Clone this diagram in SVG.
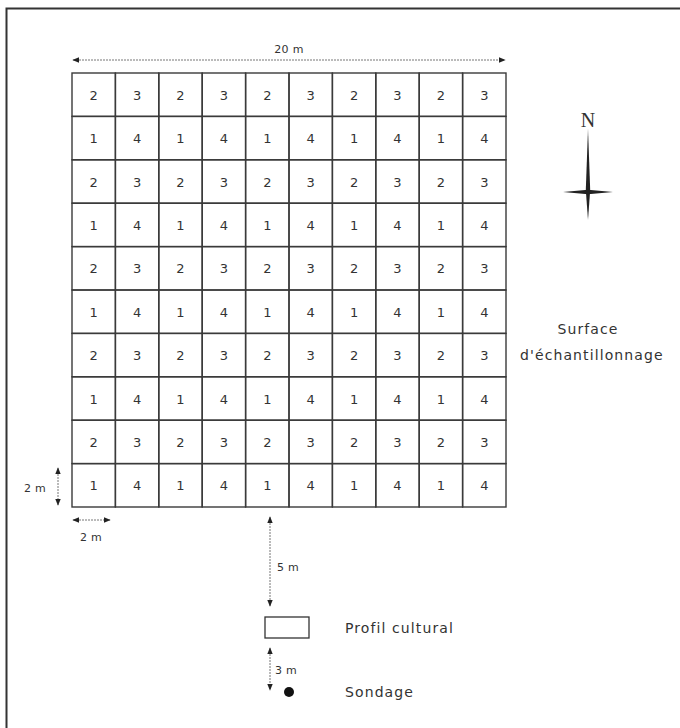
<svg xmlns="http://www.w3.org/2000/svg" width="680" height="728" viewBox="0 0 680 728">
<style>
.cell rect{fill:none;stroke:#3a3a3a;stroke-width:1.4}
.num{font-family:"DejaVu Sans","Liberation Sans",sans-serif;font-size:13px;fill:#333;text-anchor:middle}
.lbl{font-family:"DejaVu Sans","Liberation Sans",sans-serif;font-size:11px;fill:#333;letter-spacing:0.3px}
.big{font-family:"DejaVu Sans","Liberation Sans",sans-serif;font-size:14px;fill:#333;letter-spacing:1.1px}
.dim{stroke:#777;stroke-width:1;fill:none;stroke-dasharray:2 1}
</style>
<defs>
<marker id="ah" viewBox="0 0 10 10" refX="9" refY="5" markerWidth="7" markerHeight="7" markerUnits="userSpaceOnUse" orient="auto-start-reverse">
<path d="M0,1 L10,5 L0,9 Z" fill="#222"/>
</marker>
</defs>
<rect x="0" y="0" width="680" height="728" fill="#fff"/>
<path d="M6.5,728 V8.5 H680" fill="none" stroke="#333" stroke-width="2"/>

<g id="connectors">
<line class="dim" x1="73" y1="60" x2="505" y2="60" marker-start="url(#ah)" marker-end="url(#ah)"/>
<line class="dim" x1="58" y1="468" x2="58" y2="505" marker-start="url(#ah)" marker-end="url(#ah)"/>
<line class="dim" x1="73" y1="520" x2="110" y2="520" marker-start="url(#ah)" marker-end="url(#ah)"/>
<line class="dim" x1="270" y1="517" x2="270" y2="606" marker-start="url(#ah)" marker-end="url(#ah)"/>
<line class="dim" x1="270" y1="648" x2="270" y2="690" marker-start="url(#ah)" marker-end="url(#ah)"/>
</g>

<g id="labels">
<text class="lbl" x="289" y="53" text-anchor="middle">20 m</text>
<text class="lbl" x="24" y="492">2 m</text>
<text class="lbl" x="80" y="541">2 m</text>
<text class="lbl" x="277" y="571">5 m</text>
<text class="lbl" x="275" y="674">3 m</text>
</g>

<g id="grid">
<g class="cell" id="c0-0"><rect x="72" y="73" width="43.4" height="43.4"/><text class="num" x="93.7" y="99.7">2</text></g>
<g class="cell" id="c0-1"><rect x="115.4" y="73" width="43.4" height="43.4"/><text class="num" x="137.1" y="99.7">3</text></g>
<g class="cell" id="c0-2"><rect x="158.8" y="73" width="43.4" height="43.4"/><text class="num" x="180.5" y="99.7">2</text></g>
<g class="cell" id="c0-3"><rect x="202.2" y="73" width="43.4" height="43.4"/><text class="num" x="223.9" y="99.7">3</text></g>
<g class="cell" id="c0-4"><rect x="245.6" y="73" width="43.4" height="43.4"/><text class="num" x="267.3" y="99.7">2</text></g>
<g class="cell" id="c0-5"><rect x="289" y="73" width="43.4" height="43.4"/><text class="num" x="310.7" y="99.7">3</text></g>
<g class="cell" id="c0-6"><rect x="332.4" y="73" width="43.4" height="43.4"/><text class="num" x="354.1" y="99.7">2</text></g>
<g class="cell" id="c0-7"><rect x="375.8" y="73" width="43.4" height="43.4"/><text class="num" x="397.5" y="99.7">3</text></g>
<g class="cell" id="c0-8"><rect x="419.2" y="73" width="43.4" height="43.4"/><text class="num" x="440.9" y="99.7">2</text></g>
<g class="cell" id="c0-9"><rect x="462.6" y="73" width="43.4" height="43.4"/><text class="num" x="484.3" y="99.7">3</text></g>

<g class="cell" id="c1-0"><rect x="72" y="116.4" width="43.4" height="43.4"/><text class="num" x="93.7" y="143.1">1</text></g>
<g class="cell" id="c1-1"><rect x="115.4" y="116.4" width="43.4" height="43.4"/><text class="num" x="137.1" y="143.1">4</text></g>
<g class="cell" id="c1-2"><rect x="158.8" y="116.4" width="43.4" height="43.4"/><text class="num" x="180.5" y="143.1">1</text></g>
<g class="cell" id="c1-3"><rect x="202.2" y="116.4" width="43.4" height="43.4"/><text class="num" x="223.9" y="143.1">4</text></g>
<g class="cell" id="c1-4"><rect x="245.6" y="116.4" width="43.4" height="43.4"/><text class="num" x="267.3" y="143.1">1</text></g>
<g class="cell" id="c1-5"><rect x="289" y="116.4" width="43.4" height="43.4"/><text class="num" x="310.7" y="143.1">4</text></g>
<g class="cell" id="c1-6"><rect x="332.4" y="116.4" width="43.4" height="43.4"/><text class="num" x="354.1" y="143.1">1</text></g>
<g class="cell" id="c1-7"><rect x="375.8" y="116.4" width="43.4" height="43.4"/><text class="num" x="397.5" y="143.1">4</text></g>
<g class="cell" id="c1-8"><rect x="419.2" y="116.4" width="43.4" height="43.4"/><text class="num" x="440.9" y="143.1">1</text></g>
<g class="cell" id="c1-9"><rect x="462.6" y="116.4" width="43.4" height="43.4"/><text class="num" x="484.3" y="143.1">4</text></g>

<g class="cell" id="c2-0"><rect x="72" y="159.8" width="43.4" height="43.4"/><text class="num" x="93.7" y="186.5">2</text></g>
<g class="cell" id="c2-1"><rect x="115.4" y="159.8" width="43.4" height="43.4"/><text class="num" x="137.1" y="186.5">3</text></g>
<g class="cell" id="c2-2"><rect x="158.8" y="159.8" width="43.4" height="43.4"/><text class="num" x="180.5" y="186.5">2</text></g>
<g class="cell" id="c2-3"><rect x="202.2" y="159.8" width="43.4" height="43.4"/><text class="num" x="223.9" y="186.5">3</text></g>
<g class="cell" id="c2-4"><rect x="245.6" y="159.8" width="43.4" height="43.4"/><text class="num" x="267.3" y="186.5">2</text></g>
<g class="cell" id="c2-5"><rect x="289" y="159.8" width="43.4" height="43.4"/><text class="num" x="310.7" y="186.5">3</text></g>
<g class="cell" id="c2-6"><rect x="332.4" y="159.8" width="43.4" height="43.4"/><text class="num" x="354.1" y="186.5">2</text></g>
<g class="cell" id="c2-7"><rect x="375.8" y="159.8" width="43.4" height="43.4"/><text class="num" x="397.5" y="186.5">3</text></g>
<g class="cell" id="c2-8"><rect x="419.2" y="159.8" width="43.4" height="43.4"/><text class="num" x="440.9" y="186.5">2</text></g>
<g class="cell" id="c2-9"><rect x="462.6" y="159.8" width="43.4" height="43.4"/><text class="num" x="484.3" y="186.5">3</text></g>

<g class="cell" id="c3-0"><rect x="72" y="203.2" width="43.4" height="43.4"/><text class="num" x="93.7" y="229.9">1</text></g>
<g class="cell" id="c3-1"><rect x="115.4" y="203.2" width="43.4" height="43.4"/><text class="num" x="137.1" y="229.9">4</text></g>
<g class="cell" id="c3-2"><rect x="158.8" y="203.2" width="43.4" height="43.4"/><text class="num" x="180.5" y="229.9">1</text></g>
<g class="cell" id="c3-3"><rect x="202.2" y="203.2" width="43.4" height="43.4"/><text class="num" x="223.9" y="229.9">4</text></g>
<g class="cell" id="c3-4"><rect x="245.6" y="203.2" width="43.4" height="43.4"/><text class="num" x="267.3" y="229.9">1</text></g>
<g class="cell" id="c3-5"><rect x="289" y="203.2" width="43.4" height="43.4"/><text class="num" x="310.7" y="229.9">4</text></g>
<g class="cell" id="c3-6"><rect x="332.4" y="203.2" width="43.4" height="43.4"/><text class="num" x="354.1" y="229.9">1</text></g>
<g class="cell" id="c3-7"><rect x="375.8" y="203.2" width="43.4" height="43.4"/><text class="num" x="397.5" y="229.9">4</text></g>
<g class="cell" id="c3-8"><rect x="419.2" y="203.2" width="43.4" height="43.4"/><text class="num" x="440.9" y="229.9">1</text></g>
<g class="cell" id="c3-9"><rect x="462.6" y="203.2" width="43.4" height="43.4"/><text class="num" x="484.3" y="229.9">4</text></g>

<g class="cell" id="c4-0"><rect x="72" y="246.6" width="43.4" height="43.4"/><text class="num" x="93.7" y="273.3">2</text></g>
<g class="cell" id="c4-1"><rect x="115.4" y="246.6" width="43.4" height="43.4"/><text class="num" x="137.1" y="273.3">3</text></g>
<g class="cell" id="c4-2"><rect x="158.8" y="246.6" width="43.4" height="43.4"/><text class="num" x="180.5" y="273.3">2</text></g>
<g class="cell" id="c4-3"><rect x="202.2" y="246.6" width="43.4" height="43.4"/><text class="num" x="223.9" y="273.3">3</text></g>
<g class="cell" id="c4-4"><rect x="245.6" y="246.6" width="43.4" height="43.4"/><text class="num" x="267.3" y="273.3">2</text></g>
<g class="cell" id="c4-5"><rect x="289" y="246.6" width="43.4" height="43.4"/><text class="num" x="310.7" y="273.3">3</text></g>
<g class="cell" id="c4-6"><rect x="332.4" y="246.6" width="43.4" height="43.4"/><text class="num" x="354.1" y="273.3">2</text></g>
<g class="cell" id="c4-7"><rect x="375.8" y="246.6" width="43.4" height="43.4"/><text class="num" x="397.5" y="273.3">3</text></g>
<g class="cell" id="c4-8"><rect x="419.2" y="246.6" width="43.4" height="43.4"/><text class="num" x="440.9" y="273.3">2</text></g>
<g class="cell" id="c4-9"><rect x="462.6" y="246.6" width="43.4" height="43.4"/><text class="num" x="484.3" y="273.3">3</text></g>

<g class="cell" id="c5-0"><rect x="72" y="290" width="43.4" height="43.4"/><text class="num" x="93.7" y="316.7">1</text></g>
<g class="cell" id="c5-1"><rect x="115.4" y="290" width="43.4" height="43.4"/><text class="num" x="137.1" y="316.7">4</text></g>
<g class="cell" id="c5-2"><rect x="158.8" y="290" width="43.4" height="43.4"/><text class="num" x="180.5" y="316.7">1</text></g>
<g class="cell" id="c5-3"><rect x="202.2" y="290" width="43.4" height="43.4"/><text class="num" x="223.9" y="316.7">4</text></g>
<g class="cell" id="c5-4"><rect x="245.6" y="290" width="43.4" height="43.4"/><text class="num" x="267.3" y="316.7">1</text></g>
<g class="cell" id="c5-5"><rect x="289" y="290" width="43.4" height="43.4"/><text class="num" x="310.7" y="316.7">4</text></g>
<g class="cell" id="c5-6"><rect x="332.4" y="290" width="43.4" height="43.4"/><text class="num" x="354.1" y="316.7">1</text></g>
<g class="cell" id="c5-7"><rect x="375.8" y="290" width="43.4" height="43.4"/><text class="num" x="397.5" y="316.7">4</text></g>
<g class="cell" id="c5-8"><rect x="419.2" y="290" width="43.4" height="43.4"/><text class="num" x="440.9" y="316.7">1</text></g>
<g class="cell" id="c5-9"><rect x="462.6" y="290" width="43.4" height="43.4"/><text class="num" x="484.3" y="316.7">4</text></g>

<g class="cell" id="c6-0"><rect x="72" y="333.4" width="43.4" height="43.4"/><text class="num" x="93.7" y="360.1">2</text></g>
<g class="cell" id="c6-1"><rect x="115.4" y="333.4" width="43.4" height="43.4"/><text class="num" x="137.1" y="360.1">3</text></g>
<g class="cell" id="c6-2"><rect x="158.8" y="333.4" width="43.4" height="43.4"/><text class="num" x="180.5" y="360.1">2</text></g>
<g class="cell" id="c6-3"><rect x="202.2" y="333.4" width="43.4" height="43.4"/><text class="num" x="223.9" y="360.1">3</text></g>
<g class="cell" id="c6-4"><rect x="245.6" y="333.4" width="43.4" height="43.4"/><text class="num" x="267.3" y="360.1">2</text></g>
<g class="cell" id="c6-5"><rect x="289" y="333.4" width="43.4" height="43.4"/><text class="num" x="310.7" y="360.1">3</text></g>
<g class="cell" id="c6-6"><rect x="332.4" y="333.4" width="43.4" height="43.4"/><text class="num" x="354.1" y="360.1">2</text></g>
<g class="cell" id="c6-7"><rect x="375.8" y="333.4" width="43.4" height="43.4"/><text class="num" x="397.5" y="360.1">3</text></g>
<g class="cell" id="c6-8"><rect x="419.2" y="333.4" width="43.4" height="43.4"/><text class="num" x="440.9" y="360.1">2</text></g>
<g class="cell" id="c6-9"><rect x="462.6" y="333.4" width="43.4" height="43.4"/><text class="num" x="484.3" y="360.1">3</text></g>

<g class="cell" id="c7-0"><rect x="72" y="376.8" width="43.4" height="43.4"/><text class="num" x="93.7" y="403.5">1</text></g>
<g class="cell" id="c7-1"><rect x="115.4" y="376.8" width="43.4" height="43.4"/><text class="num" x="137.1" y="403.5">4</text></g>
<g class="cell" id="c7-2"><rect x="158.8" y="376.8" width="43.4" height="43.4"/><text class="num" x="180.5" y="403.5">1</text></g>
<g class="cell" id="c7-3"><rect x="202.2" y="376.8" width="43.4" height="43.4"/><text class="num" x="223.9" y="403.5">4</text></g>
<g class="cell" id="c7-4"><rect x="245.6" y="376.8" width="43.4" height="43.4"/><text class="num" x="267.3" y="403.5">1</text></g>
<g class="cell" id="c7-5"><rect x="289" y="376.8" width="43.4" height="43.4"/><text class="num" x="310.7" y="403.5">4</text></g>
<g class="cell" id="c7-6"><rect x="332.4" y="376.8" width="43.4" height="43.4"/><text class="num" x="354.1" y="403.5">1</text></g>
<g class="cell" id="c7-7"><rect x="375.8" y="376.8" width="43.4" height="43.4"/><text class="num" x="397.5" y="403.5">4</text></g>
<g class="cell" id="c7-8"><rect x="419.2" y="376.8" width="43.4" height="43.4"/><text class="num" x="440.9" y="403.5">1</text></g>
<g class="cell" id="c7-9"><rect x="462.6" y="376.8" width="43.4" height="43.4"/><text class="num" x="484.3" y="403.5">4</text></g>

<g class="cell" id="c8-0"><rect x="72" y="420.2" width="43.4" height="43.4"/><text class="num" x="93.7" y="446.9">2</text></g>
<g class="cell" id="c8-1"><rect x="115.4" y="420.2" width="43.4" height="43.4"/><text class="num" x="137.1" y="446.9">3</text></g>
<g class="cell" id="c8-2"><rect x="158.8" y="420.2" width="43.4" height="43.4"/><text class="num" x="180.5" y="446.9">2</text></g>
<g class="cell" id="c8-3"><rect x="202.2" y="420.2" width="43.4" height="43.4"/><text class="num" x="223.9" y="446.9">3</text></g>
<g class="cell" id="c8-4"><rect x="245.6" y="420.2" width="43.4" height="43.4"/><text class="num" x="267.3" y="446.9">2</text></g>
<g class="cell" id="c8-5"><rect x="289" y="420.2" width="43.4" height="43.4"/><text class="num" x="310.7" y="446.9">3</text></g>
<g class="cell" id="c8-6"><rect x="332.4" y="420.2" width="43.4" height="43.4"/><text class="num" x="354.1" y="446.9">2</text></g>
<g class="cell" id="c8-7"><rect x="375.8" y="420.2" width="43.4" height="43.4"/><text class="num" x="397.5" y="446.9">3</text></g>
<g class="cell" id="c8-8"><rect x="419.2" y="420.2" width="43.4" height="43.4"/><text class="num" x="440.9" y="446.9">2</text></g>
<g class="cell" id="c8-9"><rect x="462.6" y="420.2" width="43.4" height="43.4"/><text class="num" x="484.3" y="446.9">3</text></g>

<g class="cell" id="c9-0"><rect x="72" y="463.6" width="43.4" height="43.4"/><text class="num" x="93.7" y="490.3">1</text></g>
<g class="cell" id="c9-1"><rect x="115.4" y="463.6" width="43.4" height="43.4"/><text class="num" x="137.1" y="490.3">4</text></g>
<g class="cell" id="c9-2"><rect x="158.8" y="463.6" width="43.4" height="43.4"/><text class="num" x="180.5" y="490.3">1</text></g>
<g class="cell" id="c9-3"><rect x="202.2" y="463.6" width="43.4" height="43.4"/><text class="num" x="223.9" y="490.3">4</text></g>
<g class="cell" id="c9-4"><rect x="245.6" y="463.6" width="43.4" height="43.4"/><text class="num" x="267.3" y="490.3">1</text></g>
<g class="cell" id="c9-5"><rect x="289" y="463.6" width="43.4" height="43.4"/><text class="num" x="310.7" y="490.3">4</text></g>
<g class="cell" id="c9-6"><rect x="332.4" y="463.6" width="43.4" height="43.4"/><text class="num" x="354.1" y="490.3">1</text></g>
<g class="cell" id="c9-7"><rect x="375.8" y="463.6" width="43.4" height="43.4"/><text class="num" x="397.5" y="490.3">4</text></g>
<g class="cell" id="c9-8"><rect x="419.2" y="463.6" width="43.4" height="43.4"/><text class="num" x="440.9" y="490.3">1</text></g>
<g class="cell" id="c9-9"><rect x="462.6" y="463.6" width="43.4" height="43.4"/><text class="num" x="484.3" y="490.3">4</text></g>
</g>

<g id="north">
<text x="588" y="127" text-anchor="middle" font-family="Liberation Serif, serif" font-size="20" fill="#333">N</text>
<polygon points="588,129 590.2,190 588,220 585.8,190" fill="#222"/>
<polygon points="563,192 588,189.8 613,192 588,194.2" fill="#222"/>
</g>

<g id="surface">
<text class="big" x="588" y="334" text-anchor="middle">Surface</text>
<text class="big" x="520" y="360">d'échantillonnage</text>
</g>

<g id="profil">
<rect x="265" y="617" width="44" height="21" fill="none" stroke="#333" stroke-width="1.3"/>
<text class="big" x="345" y="633">Profil cultural</text>
</g>

<g id="sondage">
<circle cx="289" cy="692" r="5" fill="#111"/>
<text class="big" x="345" y="697">Sondage</text>
</g>
</svg>
